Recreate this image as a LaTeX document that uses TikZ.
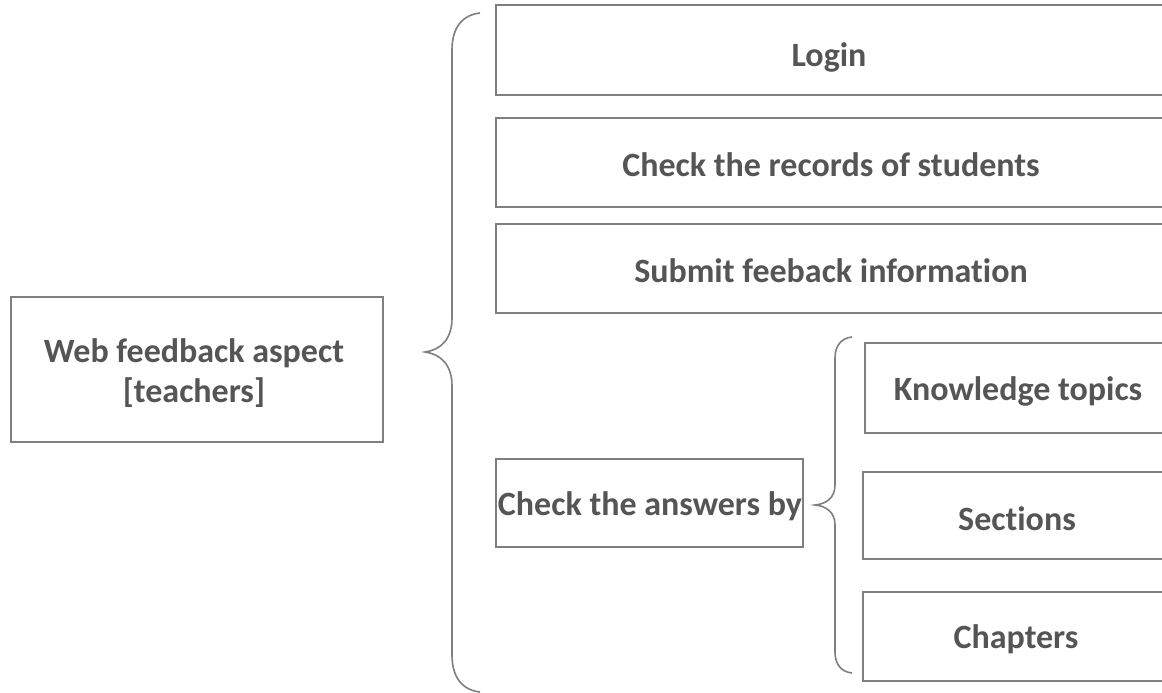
\documentclass[tikz,border=0pt]{standalone}
\usepackage{fontspec}
\setmainfont[Ligatures=NoCommon]{Carlito}
\definecolor{linegray}{HTML}{7F7F7F}
\definecolor{textgray}{HTML}{555555}
\begin{document}
\begin{tikzpicture}[x=1pt,y=-1pt,
  box/.style={draw=linegray,line width=1.5pt,fill=white},
  lbl/.style={font=\bfseries\fontsize{34}{40}\selectfont,text=textgray,align=center},
  brace/.style={draw=linegray,line width=1.6pt}]
\useasboundingbox (0,0) rectangle (1162,693);
\clip (0,0) rectangle (1162,693);
% boxes
\draw[box] (11,297) rectangle (383,442);
\node[lbl] (web) at (194,373) {Web feedback aspect\\{}[teachers]};
\draw[box] (496,5) rectangle (1168,95);
\node[lbl] (login) at (829,57) {Login};
\draw[box] (496,118) rectangle (1168,207);
\node[lbl] (records) at (831,165) {Check the records of students};
\draw[box] (496,224) rectangle (1168,313);
\node[lbl] (submit) at (831,271) {Submit feeback information};
\draw[box] (496,459) rectangle (803,547);
\node[lbl] (answers) at (650,506) {Check the answers by};
\draw[box] (865,343) rectangle (1172,433);
\node[lbl] (topics) at (1018,391) {Knowledge topics};
\draw[box] (863,472) rectangle (1172,559);
\node[lbl] (sections) at (1017,519) {Sections};
\draw[box] (863,592) rectangle (1172,681);
\node[lbl] (chapters) at (1016,639) {Chapters};
% big brace
\draw[brace] (480,13) .. controls (462,15) and (452,28) .. (452,50)
  -- (452,318) .. controls (452,340) and (440,350) .. (425,352)
  .. controls (440,354) and (452,364) .. (452,386)
  -- (452,655) .. controls (452,677) and (462,690) .. (480,692);
% small brace
\draw[brace] (852,337) .. controls (842,338) and (835,345) .. (835,358)
  -- (835,485) .. controls (835,498) and (826,504) .. (815,505)
  .. controls (826,506) and (835,512) .. (835,525)
  -- (835,652) .. controls (835,665) and (842,672) .. (852,673);
\end{tikzpicture}
\end{document}
